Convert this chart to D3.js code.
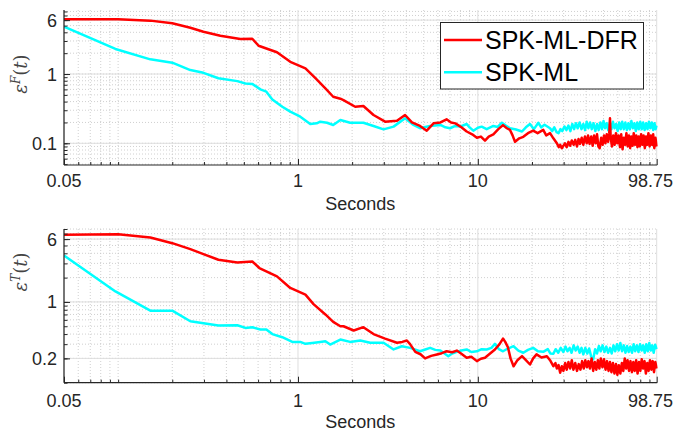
<!DOCTYPE html>
<html>
<head>
<meta charset="utf-8">
<script src="https://cdn.jsdelivr.net/npm/d3@7/dist/d3.min.js"></script>
<style>
  body{margin:0;background:#fff;}
  svg{display:block;}
  text{font-family:"Liberation Sans",Arial,Helvetica,sans-serif;}
</style>
</head>
<body>
<svg id="chart" width="674" height="433"></svg>
<script>
// series: [seconds, error]
var topRed=[[0.05,6.2],[0.1,6.2],[0.151,5.9],[0.2,5.4],[0.252,4.66],[0.298,4.08],[0.37,3.57],[0.478,3.2],[0.557,3.23],[0.604,2.56],[0.764,2.06],[0.906,1.5],[1.1,1.21],[1.25,0.87],[1.42,0.62],[1.57,0.47],[1.72,0.44],[1.79,0.42],[2.08,0.337],[2.31,0.345],[2.63,0.256],[3.05,0.205],[3.55,0.212],[3.94,0.256],[4.3,0.2],[4.77,0.178],[5.2,0.152],[5.67,0.194],[6.2,0.2],[6.7,0.222],[7.1,0.2],[7.5,0.194],[8.1,0.17],[8.67,0.148],[9.3,0.135],[9.88,0.12],[10.4,0.125],[10.96,0.109],[11.5,0.125],[12.2,0.135],[13,0.16],[13.8,0.183],[14.5,0.165],[15.1,0.156],[15.6,0.13],[16.1,0.105],[17,0.118],[17.9,0.124],[19,0.14],[20.3,0.152],[21.5,0.14],[23.1,0.156],[24,0.13],[25.2,0.14],[26.3,0.118],[27.5,0.1],[28.2,0.088],[28.7,0.095],[29.3,0.085],[29.9,0.092],[30.5,0.1],[31.2,0.088],[31.9,0.105],[32.6,0.092],[33.3,0.11],[34.1,0.095],[34.8,0.112],[35.6,0.09],[36.3,0.115],[37,0.098],[37.8,0.12],[38.6,0.095],[39.4,0.125],[40.3,0.1],[41,0.13],[41.8,0.098],[42.7,0.125],[43.5,0.092],[44.3,0.13],[45.2,0.1],[46,0.135],[46.8,0.09],[47.6,0.085],[48.5,0.12],[49.4,0.095],[50.3,0.13],[51.2,0.1],[52.1,0.135],[53,0.105],[53.8,0.14],[54.3,0.23],[54.8,0.12],[55.7,0.09],[56.6,0.13],[57.6,0.095],[58.6,0.14],[59.6,0.1],[60.6,0.13],[61.7,0.088],[62.7,0.135],[63.8,0.082],[64.8,0.12],[65.9,0.095],[67,0.14],[68.1,0.09],[69.2,0.13],[70.3,0.085],[71.4,0.125],[72.5,0.092],[73.6,0.14],[74.8,0.095],[76,0.13],[77.2,0.088],[78.4,0.125],[79.6,0.09],[80.9,0.135],[82.2,0.095],[83.5,0.13],[84.8,0.085],[86.1,0.125],[87.4,0.095],[88.8,0.14],[90.2,0.09],[91.6,0.13],[93,0.095],[94.4,0.135],[95.8,0.085],[97.2,0.12],[98.75,0.09]];
var topCyan=[[0.05,4.82],[0.0966,2.3],[0.151,1.63],[0.2,1.46],[0.252,1.14],[0.298,1.04],[0.361,0.87],[0.46,0.79],[0.51,0.73],[0.557,0.72],[0.618,0.6],[0.667,0.556],[0.72,0.43],[0.818,0.337],[0.906,0.286],[1.03,0.242],[1.17,0.19],[1.27,0.194],[1.33,0.205],[1.45,0.198],[1.57,0.184],[1.72,0.217],[1.95,0.198],[2.31,0.198],[2.63,0.178],[2.99,0.159],[3.4,0.174],[3.94,0.23],[4.39,0.184],[4.77,0.165],[5.1,0.172],[5.43,0.178],[6.19,0.184],[6.6,0.17],[7.0,0.165],[7.5,0.178],[7.97,0.174],[8.67,0.19],[9.0,0.17],[9.44,0.152],[10,0.168],[10.5,0.174],[11.2,0.16],[12.2,0.178],[12.9,0.172],[13.6,0.198],[14.3,0.18],[15.1,0.165],[16.3,0.158],[17.6,0.148],[18.5,0.17],[19.5,0.19],[20.5,0.16],[21.7,0.198],[22.5,0.17],[23.5,0.185],[25.2,0.165],[25.9,0.15],[26.6,0.17],[27.4,0.145],[28.1,0.14],[28.8,0.16],[29.5,0.15],[30.3,0.175],[31.1,0.155],[31.9,0.18],[32.7,0.15],[33.5,0.19],[34.3,0.16],[35.1,0.195],[35.9,0.165],[36.8,0.2],[37.7,0.16],[38.6,0.19],[39.5,0.155],[40.3,0.205],[41.2,0.165],[42.1,0.2],[43,0.16],[44,0.195],[45,0.15],[46,0.19],[47,0.155],[48,0.2],[49,0.16],[50,0.21],[51,0.165],[52,0.195],[53.1,0.155],[54.2,0.2],[55.3,0.16],[56.4,0.205],[57.5,0.165],[58.7,0.19],[59.9,0.15],[61.1,0.2],[62.3,0.16],[63.5,0.205],[64.8,0.16],[66.1,0.2],[67.4,0.155],[68.7,0.195],[70,0.16],[71.4,0.21],[72.8,0.165],[74.2,0.195],[75.6,0.15],[77,0.2],[78.5,0.16],[80,0.205],[81.5,0.16],[83,0.2],[84.6,0.155],[86.2,0.195],[87.8,0.16],[89.4,0.205],[91,0.165],[92.7,0.2],[94.4,0.155],[96,0.195],[97.4,0.16],[98.75,0.18]];
var botRed=[[0.05,6.78],[0.1,6.9],[0.151,6.27],[0.2,5.34],[0.252,4.51],[0.298,3.91],[0.361,3.33],[0.46,3.08],[0.557,3.17],[0.61,2.63],[0.764,2.07],[0.906,1.49],[1.1,1.23],[1.22,0.94],[1.42,0.7],[1.57,0.566],[1.72,0.5],[1.79,0.5],[2.04,0.443],[2.31,0.487],[2.63,0.4],[3.05,0.352],[3.55,0.312],[3.8,0.32],[4.03,0.333],[4.2,0.3],[4.49,0.241],[4.8,0.225],[5.09,0.2],[5.5,0.215],[5.92,0.224],[6.3,0.232],[6.7,0.245],[7.2,0.238],[7.64,0.25],[8.1,0.228],[8.67,0.204],[9.2,0.21],[9.88,0.185],[10.4,0.198],[10.96,0.204],[11.7,0.23],[12.45,0.258],[13.2,0.3],[13.8,0.352],[14.2,0.32],[14.7,0.275],[15.2,0.2],[15.8,0.16],[16.6,0.19],[17.6,0.213],[18.5,0.19],[19.5,0.168],[20.3,0.2],[21.2,0.224],[22.6,0.205],[24.2,0.213],[25.2,0.19],[26.3,0.16],[27,0.175],[27.5,0.15],[28.1,0.165],[28.7,0.133],[29.3,0.16],[29.9,0.14],[30.6,0.175],[31.2,0.145],[31.9,0.18],[32.6,0.15],[33.3,0.19],[34,0.145],[34.8,0.175],[35.6,0.14],[36.4,0.17],[37.2,0.145],[38,0.185],[38.8,0.15],[39.6,0.19],[40.4,0.155],[41.2,0.185],[42,0.15],[42.9,0.2],[43.8,0.14],[44.7,0.18],[45.6,0.145],[46.5,0.19],[47.4,0.15],[48.3,0.2],[49.3,0.155],[50.3,0.195],[51.3,0.145],[52.3,0.185],[53.3,0.14],[54.3,0.18],[55.3,0.135],[56.4,0.175],[57.5,0.13],[58.6,0.17],[59.7,0.125],[60.8,0.165],[62,0.13],[63.2,0.175],[64.4,0.14],[65.6,0.2],[66.8,0.15],[68,0.19],[69.3,0.14],[70.6,0.185],[71.9,0.135],[73.2,0.18],[74.5,0.14],[75.9,0.19],[77.3,0.13],[78.7,0.18],[80.1,0.14],[81.5,0.195],[83,0.15],[84.5,0.185],[86,0.13],[87.5,0.175],[89,0.14],[90.6,0.19],[92.2,0.145],[93.8,0.185],[95.4,0.135],[97,0.18],[98.75,0.15]];
var botCyan=[[0.05,3.76],[0.0966,1.35],[0.151,0.78],[0.2,0.78],[0.252,0.576],[0.361,0.51],[0.46,0.514],[0.51,0.477],[0.557,0.486],[0.618,0.455],[0.667,0.455],[0.72,0.4],[0.818,0.366],[0.93,0.32],[1.03,0.32],[1.1,0.303],[1.2,0.31],[1.33,0.32],[1.42,0.326],[1.51,0.297],[1.72,0.342],[1.95,0.32],[2.22,0.333],[2.52,0.312],[2.99,0.312],[3.4,0.258],[3.78,0.283],[4.2,0.27],[4.77,0.245],[5.1,0.258],[5.43,0.27],[5.8,0.255],[6.19,0.25],[6.85,0.213],[7.2,0.23],[7.64,0.241],[8.1,0.25],[8.67,0.258],[9.2,0.24],[9.88,0.245],[10.5,0.26],[11.2,0.258],[11.9,0.27],[12.45,0.303],[13.1,0.26],[13.8,0.245],[14.7,0.265],[15.8,0.283],[16.8,0.25],[17.9,0.235],[19,0.255],[20.3,0.27],[21.6,0.245],[23.1,0.241],[24.5,0.26],[25.3,0.23],[26.3,0.228],[27.1,0.26],[28,0.235],[28.9,0.27],[29.9,0.24],[30.7,0.28],[31.5,0.245],[32.4,0.27],[33.2,0.235],[34.1,0.29],[35,0.25],[35.9,0.28],[36.8,0.235],[37.7,0.27],[38.6,0.224],[39.6,0.27],[40.6,0.23],[41.6,0.265],[42.7,0.21],[43.8,0.195],[44.9,0.26],[46,0.23],[47.1,0.285],[48.2,0.245],[49.4,0.29],[50.6,0.24],[51.8,0.28],[53,0.235],[54.3,0.27],[55.5,0.23],[56.8,0.29],[58.1,0.245],[59.4,0.3],[60.7,0.25],[62,0.31],[63.4,0.245],[64.8,0.29],[66.2,0.235],[67.6,0.285],[69,0.24],[70.5,0.28],[72,0.235],[73.5,0.3],[75,0.245],[76.6,0.29],[78.2,0.24],[79.8,0.3],[81.4,0.25],[83,0.29],[84.7,0.235],[86.4,0.3],[88.1,0.245],[89.8,0.31],[91.5,0.25],[93.2,0.29],[95,0.235],[96.8,0.295],[98.75,0.26]];

var xTickVals=[0.05,1,10,98.75];
var xTickLabels=["0.05","1","10","98.75"];
var topYTicks=[0.1,1,6];
var topYLabels=["0.1","1","6"];
var botYTicks=[0.2,1,6];
var botYLabels=["0.2","1","6"];
var seriesNames=["SPK-ML-DFR","SPK-ML"];
var seriesColors=["#ff0000","#00ffff"];

var svg=d3.select("#chart");
var axisCol="#262626";
var left=64, right=656.7;

var x=d3.scaleLog().domain([0.05,98.75]).range([left,right]);

function minorVals(lo,hi){
    var out=[];
    for(var e=-2;e<=2;e++){
        for(var m=1;m<10;m++){
            var v=m*Math.pow(10,e);
            if(v>=lo*0.999 && v<=hi*1.001) out.push(v);
        }
    }
    return out;
}

function panel(id,top,bottom,yDomain,yTicks,yLabels,red,cyan,yLetter,labelY,tickBase,xlabBase){
    var y=d3.scaleLog().domain(yDomain).range([bottom,top]);
    var g=svg.append("g");

    // minor grid
    var xm=minorVals(0.05,98.75).filter(function(v){return xTickVals.indexOf(v)<0;});
    var ym=minorVals(yDomain[0],yDomain[1]);
    g.selectAll(".xmg").data(xm).enter().append("line")
        .attr("x1",function(d){return x(d);}).attr("x2",function(d){return x(d);})
        .attr("y1",top).attr("y2",bottom)
        .attr("stroke","#c4c4c4").attr("stroke-width",0.8).attr("stroke-dasharray","1,2");
    g.selectAll(".ymg").data(ym).enter().append("line")
        .attr("x1",left).attr("x2",right)
        .attr("y1",function(d){return y(d);}).attr("y2",function(d){return y(d);})
        .attr("stroke","#c4c4c4").attr("stroke-width",0.8).attr("stroke-dasharray","1,2");
    // major grid
    g.selectAll(".xg").data(xTickVals).enter().append("line")
        .attr("x1",function(d){return x(d);}).attr("x2",function(d){return x(d);})
        .attr("y1",top).attr("y2",bottom)
        .attr("stroke","#dedede").attr("stroke-width",1);
    g.selectAll(".yg").data(yTicks).enter().append("line")
        .attr("x1",left).attr("x2",right)
        .attr("y1",function(d){return y(d);}).attr("y2",function(d){return y(d);})
        .attr("stroke","#dedede").attr("stroke-width",1);

    svg.append("clipPath").attr("id",id).append("rect")
        .attr("x",left).attr("y",top).attr("width",right-left+1).attr("height",bottom-top);

    var line=d3.line().x(function(d){return x(d[0]);}).y(function(d){return y(d[1]);});
    g.append("path").datum(cyan).attr("d",line).attr("fill","none")
        .attr("stroke",seriesColors[1]).attr("stroke-width",2.5).attr("stroke-linejoin","round")
        .attr("clip-path","url(#"+id+")");
    g.append("path").datum(red).attr("d",line).attr("fill","none")
        .attr("stroke",seriesColors[0]).attr("stroke-width",2.5).attr("stroke-linejoin","round")
        .attr("clip-path","url(#"+id+")");

    // axes: ticks inward
    var xAxis=d3.axisTop(x).tickValues(xTickVals).tickSize(6).tickFormat("");
    var xAxisMinor=d3.axisTop(x).tickValues(xm).tickSize(3).tickFormat("");
    var yAxis=d3.axisRight(y).tickValues(yTicks).tickSize(6).tickFormat("");
    var yAxisMinor=d3.axisRight(y).tickValues(ym).tickSize(3.5).tickFormat("");
    [xAxis,xAxisMinor].forEach(function(a){
        var ax=g.append("g").attr("transform","translate(0,"+bottom+")").call(a);
        ax.select(".domain").remove();
        ax.selectAll("line").attr("stroke",axisCol);
    });
    [yAxis,yAxisMinor].forEach(function(a){
        var ax=g.append("g").attr("transform","translate("+left+",0)").call(a);
        ax.select(".domain").remove();
        ax.selectAll("line").attr("stroke",axisCol);
    });
    g.append("line").attr("x1",left).attr("x2",right+0.5).attr("y1",bottom).attr("y2",bottom)
        .attr("stroke",axisCol).attr("stroke-width",1.2);
    g.append("line").attr("x1",left).attr("x2",left).attr("y1",top).attr("y2",bottom)
        .attr("stroke",axisCol).attr("stroke-width",1.2);

    // tick labels (last one kept inside the figure, as in the source)
    g.selectAll(".xl").data(xTickVals).enter().append("text")
        .attr("x",function(d,i){return i==xTickVals.length-1 ? 673 : x(d);}).attr("y",tickBase)
        .attr("text-anchor",function(d,i){return i==xTickVals.length-1 ? "end" : "middle";})
        .attr("font-size",18).attr("fill",axisCol)
        .text(function(d,i){return xTickLabels[i];});
    g.selectAll(".yl").data(yTicks).enter().append("text")
        .attr("x",left-7).attr("y",function(d){return y(d);}).attr("dy","0.36em")
        .attr("text-anchor","end").attr("font-size",18).attr("fill",axisCol)
        .text(function(d,i){return yLabels[i];});

    g.append("text").attr("x",(left+right)/2).attr("y",xlabBase)
        .attr("text-anchor","middle").attr("font-size",18).attr("fill",axisCol)
        .text("Seconds");

    var yl=g.append("text").attr("transform","translate(27,"+labelY+") rotate(-90)")
        .attr("text-anchor","middle").attr("font-size",18).attr("fill","#444")
        .style("font-family","'DejaVu Serif','Liberation Serif',serif").style("font-style","italic");
    yl.append("tspan").text("ε");
    yl.append("tspan").attr("dy",-7).attr("font-size",12).text(yLetter);
    yl.append("tspan").attr("dy",7).style("font-style","normal").text("(");
    yl.append("tspan").text("t");
    yl.append("tspan").style("font-style","normal").text(")");
}

panel("clipTop",10,165,[0.0486,8.4],topYTicks,topYLabels,topRed,topCyan,"F",74,187,210);
panel("clipBot",229,382.7,[0.1,8],botYTicks,botYLabels,botRed,botCyan,"T",272,407,428);

// legend
var lg=svg.append("g");
lg.append("rect").attr("x",440.5).attr("y",22.5).attr("width",203).attr("height",66.5)
    .attr("fill","#fff").attr("stroke",axisCol).attr("stroke-width",1);
seriesNames.forEach(function(n,i){
    var yy=[40,72.3][i];
    lg.append("line").attr("x1",444).attr("x2",482).attr("y1",yy).attr("y2",yy)
        .attr("stroke",seriesColors[i]).attr("stroke-width",2.5);
    lg.append("text").attr("x",485).attr("y",yy+9).attr("font-size",25).attr("fill","#000").text(n);
});
</script>
</body>
</html>
